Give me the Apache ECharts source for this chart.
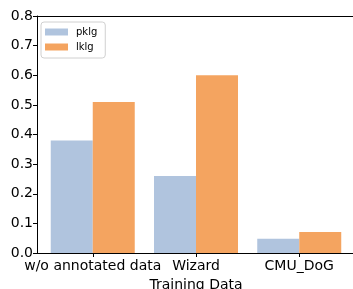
<!DOCTYPE html>
<html>
<head>
<meta charset="UTF-8">
<title></title>
<script src="https://cdn.jsdelivr.net/npm/echarts@6/dist/echarts.min.js"></script>
<style>
  html, body { margin: 0; padding: 0; background: #fff; }
  #chart { width: 353px; height: 289px; }
</style>
</head>
<body>
<div id="chart"></div>
<script>
var categories = ['w/o annotated data', 'Wizard', 'CMU_DoG'];
var pklg = [0.38, 0.26, 0.048];
var lklg = [0.51, 0.60, 0.071];

var chart = echarts.init(document.getElementById('chart'));

function toPoints(arr) {
  return arr.map(function (v, i) { return [i, v]; });
}

var font = 'DejaVu Sans';

chart.setOption({
  animation: false,
  grid: {
    left: 37, top: 16, width: 318, height: 237,
    outerBoundsMode: 'none',
    containLabel: false
  },
  legend: {
    orient: 'vertical',
    left: 41, top: 22,
    padding: [4, 8, 5, 4],
    itemWidth: 23, itemHeight: 7, itemGap: 3,
    borderColor: '#d0d0d0', borderWidth: 1, borderRadius: 3,
    backgroundColor: '#fff',
    textStyle: { fontFamily: font, fontSize: 10, lineHeight: 12, color: '#000', padding: [0, 0, 0, 3] },
    icon: 'rect',
    data: ['pklg', 'lklg']
  },
  xAxis: [{
    type: 'value',
    min: -0.54, max: 2.54,
    name: 'Training Data',
    nameLocation: 'middle',
    nameGap: 21,
    nameTextStyle: { fontFamily: font, fontSize: 14, color: '#000' },
    splitLine: { show: false },
    axisLine: { show: true, onZero: false, lineStyle: { color: '#000', width: 1 } },
    axisTick: { show: true, length: 4, lineStyle: { color: '#000' }, customValues: [0, 1, 2] },
    axisLabel: {
      fontFamily: font, fontSize: 14, color: '#000', margin: 6,
      customValues: [0, 1, 2],
      formatter: function (v) { return categories[Math.round(v)]; }
    }
  }, {
    // top spine only
    type: 'value', position: 'top',
    min: -0.54, max: 2.54,
    splitLine: { show: false },
    axisLine: { show: true, onZero: false, lineStyle: { color: '#000', width: 1 } },
    axisTick: { show: false },
    axisLabel: { show: false }
  }],
  yAxis: {
    type: 'value',
    min: 0, max: 0.8, interval: 0.1,
    splitLine: { show: false },
    axisLine: { show: true, onZero: false, lineStyle: { color: '#000', width: 1 } },
    axisTick: { show: true, length: 4, lineStyle: { color: '#000' } },
    axisLabel: {
      fontFamily: font, fontSize: 14, color: '#000', margin: 4,
      formatter: function (v) { return v.toFixed(1); }
    }
  },
  series: [
    {
      name: 'pklg', type: 'bar', data: toPoints(pklg),
      barWidth: 42, barGap: '0%',
      itemStyle: { color: '#b0c4de' }
    },
    {
      name: 'lklg', type: 'bar', data: toPoints(lklg),
      barWidth: 42, barGap: '0%',
      itemStyle: { color: '#f4a460' }
    }
  ]
});
</script>
</body>
</html>
